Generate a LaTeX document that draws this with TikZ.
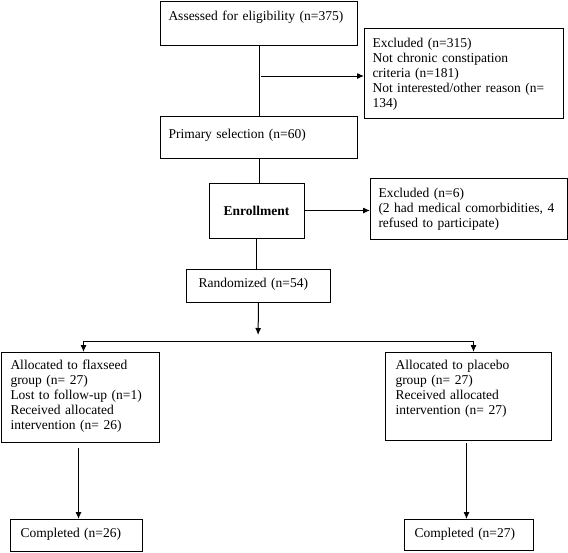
\documentclass[tikz,border=0pt]{standalone}
\usepackage{fontspec}
\setmainfont{Liberation Serif}
\usetikzlibrary{arrows.meta}

\tikzset{
  box/.style={draw=black,line width=1pt,anchor=north west,align=left,inner xsep=10pt,inner ysep=4pt,font=\fontsize{13.5}{15}\selectfont},
  flow/.style={draw=black,line width=1pt},
  arr/.style={flow,-{Latex[length=7pt,width=6pt]}}
}

\begin{document}
\begin{tikzpicture}[x=1pt,y=-1pt]
\useasboundingbox (0,0) rectangle (568,552);
%
% boxes: 
\node[box,inner xsep=8pt,text width=181pt,text height=15pt,text depth=21pt] (assess) at (160,1) {Assessed for eligibility (n=375)};
\node[box,inner xsep=8pt,text width=183pt,text height=15pt,text depth=67pt] (excl1) at (364,28) {Excluded (n=315)\\Not chronic constipation\\criteria (n=181)\\Not interested/other reason (n=\\134)};
\node[box,inner xsep=8pt,text width=181pt,text height=18pt,text depth=16pt] (primary) at (160,116) {Primary selection (n=60)};
\node[box,anchor=center,minimum width=95pt,minimum height=55pt,font=\fontsize{13.5}{15}\selectfont\bfseries] (enroll) at (256.5,210.5) {Enrollment};
\node[box,inner xsep=8pt,text width=181pt,text height=15pt,text depth=38pt] (excl2) at (370,178) {Excluded (n=6)\\(2 had medical comorbidities, 4\\refused to participate)};
\node[box,inner xsep=12pt,text width=120pt,text height=14pt,text depth=11pt] (rand) at (186,269) {Randomized (n=54)};
%
\node[box,inner xsep=9pt,text width=140pt,text height=13pt,text depth=69pt] (flax) at (1,352) {Allocated to flaxseed\\group (n= 27)\\Lost to follow-up (n=1)\\Received allocated\\intervention (n= 26)};
\node[box,text width=146pt,text height=13pt,text depth=67pt] (placebo) at (385,352) {Allocated to placebo\\group (n= 27)\\Received allocated\\intervention (n= 27)};
\node[box,text width=112pt,text height=14pt,text depth=10pt] (done1) at (10,519) {Completed (n=26)};
\node[box,text width=109pt,text height=14pt,text depth=9pt] (done2) at (404,519) {Completed (n=27)};
%
% connectors: 
\draw[flow] (assess) -- (primary);
\coordinate (tap1) at (261,76);
\draw[arr] (tap1) -- (tap1 -| excl1.west);
\draw[flow] (primary) -- (primary |- enroll.north);
\draw[arr] (enroll) -- (enroll -| excl2.west);
\draw[flow] (enroll) -- (enroll |- rand.north);
\coordinate (fork) at (258,341);
\draw[arr,shorten >=6pt] (rand.south) -- (fork);
\draw[arr] (fork) -| ([xshift=3pt]flax.north);
\draw[arr] (fork) -| ([xshift=5pt]placebo.north);
\draw[arr,shorten <=5pt] ([xshift=-2pt]flax.south) -- ([xshift=-2pt]flax.south |- done1.north);
\draw[arr,shorten <=2pt] ([xshift=-2pt]placebo.south) -- ([xshift=-2pt]placebo.south |- done2.north);
\end{tikzpicture}
\end{document}
